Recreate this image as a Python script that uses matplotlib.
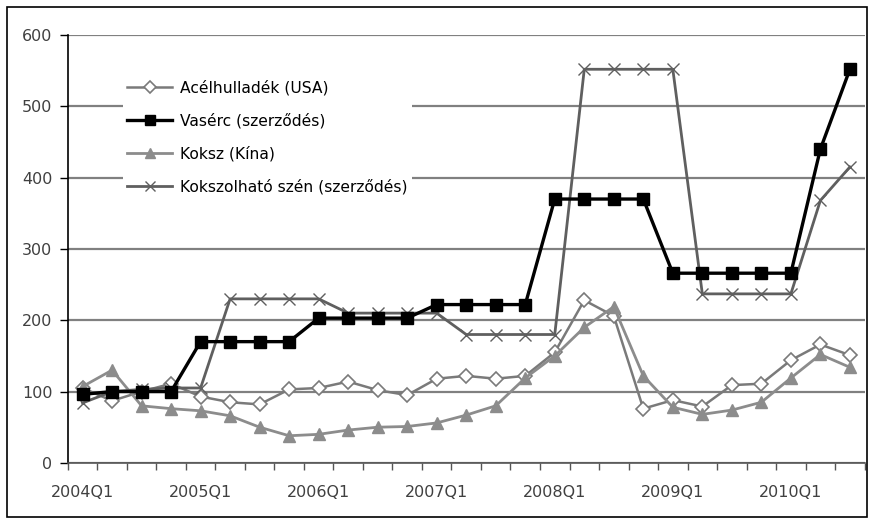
import numpy as np
import matplotlib.pyplot as plt
from matplotlib.ticker import FixedLocator

plt.rcParams['font.family'] = ['DejaVu Sans']

quarters = [f"{y}Q{q}" for y in range(2004, 2011) for q in range(1, 5)][:27]

acelhulladek = [105, 87, 100, 111, 93, 85, 82, 103, 105, 114, 102, 95, 118, 122, 118, 122,
                155, 228, 206, 76, 88, 79, 109, 111, 144, 166, 151]
vaserc = [96, 100, 100, 100, 170, 170, 170, 170, 203, 203, 203, 203, 222, 222, 222, 222,
          370, 370, 370, 370, 266, 266, 266, 266, 266, 440, 552]
koksz = [107, 130, 80, 76, 73, 66, 50, 38, 40, 46, 50, 51, 56, 67, 80, 119,
         150, 190, 219, 122, 78, 68, 74, 85, 119, 152, 134]
kokszolhato = [84, 100, 103, 105, 105, 230, 230, 230, 230, 210, 210, 210, 210, 180, 180, 180,
               180, 552, 552, 552, 552, 237, 237, 237, 237, 368, 415]

x = np.arange(len(quarters))

fig = plt.figure(figsize=(8.69, 5.23), dpi=100)
# outer frame like the original chart area
fig.patches.append(plt.Rectangle((0.008, 0.012), 0.99, 0.975, transform=fig.transFigure,
                                 fill=False, edgecolor='black', linewidth=1.2))
ax = fig.add_axes([0.078, 0.115, 0.917, 0.818])

ax.plot(x, acelhulladek, color='#7a7a7a', lw=1.8, marker='D', ms=7.5,
        mfc='white', mec='#7a7a7a', mew=1.2, label='Acélhulladék (USA)', zorder=3)
ax.plot(x, vaserc, color='black', lw=2.4, marker='s', ms=9,
        mfc='black', mec='black', label='Vasérc (szerződés)', zorder=4)
ax.plot(x, koksz, color='#8c8c8c', lw=2.0, marker='^', ms=9,
        mfc='#8c8c8c', mec='#8c8c8c', label='Koksz (Kína)', zorder=3)
ax.plot(x, kokszolhato, color='#5f5f5f', lw=2.0, marker='x', ms=9, mew=1.0,
        mec='#5f5f5f', label='Kokszolható szén (szerződés)', zorder=3)

ax.set_ylim(0, 600)
ax.set_yticks(range(0, 601, 100))
ax.set_xlim(-0.5, len(quarters) - 0.5)

ax.yaxis.grid(True, color='#808080', lw=1.6)
ax.set_axisbelow(True)

# ticks between categories, labels at every 4th category
ax.xaxis.set_major_locator(FixedLocator(np.arange(-0.5, len(quarters), 1)))
ax.xaxis.set_major_formatter(plt.NullFormatter())
ax.xaxis.set_minor_locator(FixedLocator(x[::4]))
ax.set_xticklabels([quarters[i] for i in x[::4]], minor=True)
ax.tick_params(axis='x', which='major', length=5, width=1, color='#555555')
ax.tick_params(axis='x', which='minor', length=0, pad=16, labelsize=11.5, labelcolor='#404040')
ax.tick_params(axis='y', length=6, width=1, labelsize=11.5, labelcolor='#404040', pad=5)

for s in ['top', 'right']:
    ax.spines[s].set_visible(False)
ax.spines['left'].set_color('black')
ax.spines['left'].set_linewidth(1.2)
ax.spines['bottom'].set_color('#555555')
ax.spines['bottom'].set_linewidth(1.2)

leg = ax.legend(loc='upper left', bbox_to_anchor=(0.059, 0.924), frameon=True, numpoints=1,
                fontsize=11.2, labelspacing=1.12, handlelength=2.9, handletextpad=0.5,
                borderpad=0.3, markerscale=0.8)
leg.get_frame().set_edgecolor('none')
leg.get_frame().set_facecolor('white')
leg.get_frame().set_alpha(1)

fig.savefig('out.png', dpi=100)
